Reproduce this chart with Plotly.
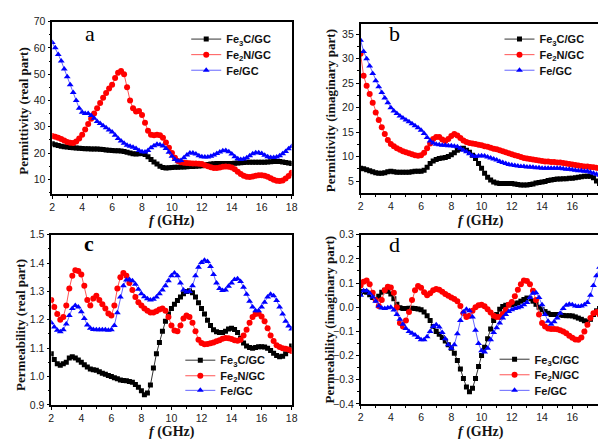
import plotly.graph_objects as go

freq = [round(2 + 0.2 * i, 1) for i in range(81)]

# Panel a: permittivity real part
a_fe3c = [23.5, 23.2, 22.9, 22.6, 22.4, 22.3, 22.1, 22.0, 21.9, 21.8,
          21.7, 21.6, 21.6, 21.5, 21.5, 21.5, 21.4, 21.3, 21.2, 21.1,
          21.0, 20.9, 20.9, 20.8, 20.6, 20.3, 20.0, 19.7, 19.6, 19.7,
          19.8, 19.4, 18.6, 17.5, 16.6, 15.8, 15.0, 14.5, 14.3, 14.4,
          14.5, 14.6, 14.6, 14.7, 14.7, 14.8, 14.9, 14.9, 15.0, 15.1,
          15.2, 15.4, 15.6, 15.8, 15.9, 16.0, 16.0, 16.0, 16.0, 16.0,
          16.0, 16.1, 16.2, 16.3, 16.4, 16.5, 16.5, 16.5, 16.5, 16.5,
          16.5, 16.5, 16.6, 16.7, 16.8, 16.8, 16.8, 16.6, 16.4, 16.2,
          16.0]
a_fe2n = [26.5, 26.2, 25.8, 25.3, 24.8, 24.2, 23.9, 23.8, 24.4, 25.5,
          27.0, 29.0, 31.0, 33.0, 35.0, 37.0, 39.0, 41.0, 42.8, 44.5,
          46.0, 48.5, 50.5, 51.2, 50.0, 45.0, 40.0, 37.0, 35.8, 36.0,
          34.5, 31.5, 28.5, 27.0, 26.8, 27.0, 26.8, 25.8, 24.0, 22.0,
          20.0, 18.2, 17.0, 16.5, 16.3, 16.2, 16.1, 16.0, 16.0, 15.9,
          15.8, 15.4, 15.0, 14.6, 14.3, 14.3, 14.5, 14.8, 14.9, 14.8,
          14.5, 13.8, 12.9, 12.0, 11.4, 11.0, 10.9, 11.1, 11.4, 11.6,
          11.6, 11.4, 11.0, 10.4, 9.8, 9.5, 9.4, 9.6, 10.3, 11.3,
          12.5]
a_fe = [62.0, 60.0, 57.5, 55.0, 52.0, 49.0, 46.0, 43.0, 40.0, 37.0,
        35.5, 35.0, 35.0, 34.3, 33.2, 32.0, 31.2, 30.4, 29.6, 28.8,
        28.0, 26.8, 25.5, 24.6, 23.7, 23.0, 22.6, 22.2, 21.7, 21.0,
        20.5, 20.4, 21.0, 22.0, 22.8, 23.3, 23.2, 22.7, 21.7, 20.3,
        18.8, 17.5, 17.0, 17.2, 18.2, 19.3, 20.0, 20.0, 19.6, 19.0,
        18.6, 18.5, 18.5, 18.8, 19.3, 19.8, 20.4, 20.9, 21.0, 20.5,
        19.6, 18.6, 17.8, 17.5, 17.7, 18.2, 19.0, 19.7, 20.1, 20.1,
        19.8, 19.2, 18.6, 18.3, 18.3, 18.5, 19.0, 19.7, 20.6, 21.6,
        22.5]

# Panel b: permittivity imaginary part
b_fe3c = [7.6, 7.5, 7.3, 7.1, 6.9, 6.7, 6.6, 6.6, 6.7, 6.9,
          7.0, 6.9, 6.8, 6.8, 6.8, 6.8, 6.8, 6.9, 7.0, 7.0,
          7.0, 7.2, 7.8, 8.6, 9.1, 9.4, 9.6, 9.7, 9.8, 10.0,
          10.4, 10.8, 11.3, 11.6, 11.7, 11.3, 10.9, 10.3, 9.6, 8.6,
          7.6, 6.6, 5.8, 5.2, 4.8, 4.6, 4.5, 4.5, 4.5, 4.5,
          4.5, 4.4, 4.3, 4.2, 4.2, 4.2, 4.3, 4.4, 4.6, 4.7,
          4.8, 4.9, 5.1, 5.2, 5.3, 5.4, 5.4, 5.5, 5.5, 5.6,
          5.6, 5.7, 5.8, 5.9, 6.0, 6.0, 6.0, 5.7, 5.0, 4.5,
          4.1]
b_fe2n = [31.0, 26.5, 24.5, 22.8, 21.0, 19.0, 17.5, 16.0, 14.6, 13.4,
          12.6, 12.1, 11.7, 11.4, 11.1, 10.9, 10.7, 10.5, 10.3, 10.2,
          10.3, 10.8, 11.7, 12.7, 13.6, 14.0, 14.0, 13.5, 13.2, 13.6,
          14.2, 14.6, 14.3, 13.8, 13.3, 13.0, 12.8, 12.7, 12.6, 12.4,
          12.3, 12.1, 12.0, 11.8, 11.6, 11.5, 11.3, 11.1, 10.9, 10.7,
          10.5, 10.3, 10.1, 9.9, 9.7, 9.6, 9.5, 9.4, 9.3, 9.2,
          9.1, 9.0, 9.0, 8.9, 8.9, 8.8, 8.8, 8.7, 8.6, 8.5,
          8.4, 8.3, 8.2, 8.1, 8.0, 8.0, 7.9, 7.8, 7.7, 7.6,
          7.6]
b_fe = [33.8, 31.5, 30.0, 28.5, 27.0, 25.5, 24.3, 23.1, 22.0, 21.0,
        20.0, 19.3, 18.8, 18.3, 17.9, 17.5, 17.1, 16.7, 16.3, 15.9,
        15.4, 14.7, 13.9, 13.2, 12.8, 12.5, 12.4, 12.3, 12.3, 12.2,
        12.2, 12.1, 12.0, 11.7, 11.3, 11.0, 10.6, 10.2, 10.0, 10.1,
        10.2, 10.1, 9.9, 9.7, 9.5, 9.3, 9.0, 8.8, 8.6, 8.4,
        8.3, 8.2, 8.1, 8.0, 8.0, 7.9, 7.9, 7.8, 7.7, 7.7,
        7.6, 7.6, 7.6, 7.6, 7.6, 7.6, 7.6, 7.5, 7.4, 7.4,
        7.3, 7.2, 7.1, 7.1, 7.0, 7.0, 6.8, 6.6, 6.4, 6.2,
        6.0]

# Panel c: permeability real part
c_fe3c = [1.080, 1.060, 1.045, 1.040, 1.045, 1.050, 1.065, 1.070, 1.065, 1.058,
          1.050, 1.042, 1.034, 1.027, 1.024, 1.022, 1.017, 1.012, 1.008, 1.004,
          1.000, 0.996, 0.992, 0.988, 0.986, 0.985, 0.983, 0.980, 0.972, 0.962,
          0.950, 0.936, 0.942, 0.970, 1.030, 1.080, 1.120, 1.160, 1.195, 1.220,
          1.240, 1.255, 1.268, 1.280, 1.292, 1.300, 1.302, 1.295, 1.280, 1.260,
          1.240, 1.220, 1.198, 1.180, 1.165, 1.158, 1.155, 1.155, 1.160, 1.168,
          1.170, 1.166, 1.155, 1.135, 1.118, 1.108, 1.102, 1.100, 1.102, 1.105,
          1.105, 1.104, 1.100, 1.092, 1.082, 1.074, 1.070, 1.072, 1.080, 1.092,
          1.108]
c_fe2n = [1.270, 1.245, 1.220, 1.200, 1.210, 1.250, 1.310, 1.355, 1.375, 1.372,
          1.360, 1.320, 1.270, 1.250, 1.275, 1.285, 1.270, 1.255, 1.240, 1.222,
          1.215, 1.250, 1.310, 1.350, 1.365, 1.355, 1.330, 1.305, 1.280, 1.262,
          1.250, 1.240, 1.232, 1.226, 1.226, 1.230, 1.236, 1.240, 1.232, 1.210,
          1.180, 1.162, 1.160, 1.180, 1.205, 1.215, 1.210, 1.190, 1.160, 1.130,
          1.118, 1.114, 1.115, 1.117, 1.120, 1.124, 1.128, 1.133, 1.136, 1.135,
          1.132, 1.128, 1.126, 1.130, 1.145, 1.165, 1.190, 1.210, 1.220, 1.222,
          1.212, 1.195, 1.170, 1.145, 1.125, 1.110, 1.104, 1.100, 1.098, 1.095,
          1.090]
c_fe = [1.190, 1.175, 1.163, 1.158, 1.165, 1.185, 1.215, 1.240, 1.250, 1.245,
        1.228, 1.205, 1.182, 1.170, 1.166, 1.165, 1.165, 1.165, 1.165, 1.163,
        1.165, 1.180, 1.225, 1.280, 1.320, 1.340, 1.342, 1.338, 1.325, 1.308,
        1.292, 1.281, 1.274, 1.270, 1.272, 1.280, 1.292, 1.305, 1.320, 1.338,
        1.355, 1.365, 1.355, 1.330, 1.305, 1.298, 1.300, 1.320, 1.355, 1.385,
        1.402, 1.410, 1.405, 1.388, 1.360, 1.330, 1.310, 1.303, 1.305, 1.318,
        1.330, 1.342, 1.345, 1.335, 1.315, 1.290, 1.265, 1.245, 1.232, 1.232,
        1.245, 1.262, 1.280, 1.290, 1.285, 1.268, 1.245, 1.220, 1.195, 1.178,
        1.168]

# Panel d: permeability imaginary part
d_fe3c = [0.060, 0.065, 0.062, 0.052, 0.040, 0.032, 0.045, 0.062, 0.070, 0.066,
          0.055, 0.035, 0.012, -0.002, -0.005, -0.005, -0.004, -0.004, -0.005, -0.007,
          -0.010, -0.020, -0.035, -0.055, -0.080, -0.100, -0.112, -0.125, -0.140, -0.155,
          -0.170, -0.190, -0.220, -0.255, -0.295, -0.330, -0.350, -0.335, -0.295, -0.245,
          -0.200, -0.165, -0.130, -0.090, -0.055, -0.030, -0.008, 0.003, 0.008, 0.010,
          0.010, 0.014, 0.018, 0.025, 0.032, 0.038, 0.035, 0.025, 0.012, 0.000,
          -0.010, -0.018, -0.025, -0.030, -0.030, -0.030, -0.032, -0.034, -0.035, -0.035,
          -0.036, -0.040, -0.045, -0.050, -0.056, -0.060, -0.050, -0.030, -0.015, -0.005,
          0.000]
d_fe2n = [0.090, 0.105, 0.110, 0.095, 0.060, 0.030, 0.005, 0.030, 0.070, 0.085,
          0.082, 0.060, 0.000, -0.065, -0.080, -0.055, -0.020, 0.030, 0.070, 0.088,
          0.080, 0.062, 0.050, 0.058, 0.070, 0.075, 0.072, 0.064, 0.055, 0.047,
          0.040, 0.034, 0.025, 0.005, -0.025, -0.040, -0.035, -0.015, 0.000, 0.008,
          0.010, 0.004, -0.008, -0.022, -0.035, -0.040, -0.040, -0.028, -0.010, 0.010,
          0.022, 0.045, 0.072, 0.095, 0.110, 0.108, 0.095, 0.068, 0.030, -0.030,
          -0.065, -0.080, -0.088, -0.090, -0.090, -0.091, -0.095, -0.100, -0.108, -0.118,
          -0.126, -0.133, -0.135, -0.125, -0.100, -0.072, -0.045, -0.025, -0.020, -0.030,
          -0.040]
d_fe = [0.050, 0.068, 0.068, 0.058, 0.042, 0.025, 0.005, -0.003, -0.005, -0.002,
        0.000, -0.012, -0.030, -0.050, -0.070, -0.088, -0.100, -0.108, -0.115, -0.125,
        -0.135, -0.135, -0.122, -0.100, -0.080, -0.072, -0.082, -0.105, -0.130, -0.155,
        -0.170, -0.155, -0.110, -0.055, -0.020, -0.008, -0.015, -0.040, -0.095, -0.150,
        -0.180, -0.185, -0.170, -0.135, -0.105, -0.085, -0.065, -0.045, -0.030, -0.018,
        -0.010, -0.005, -0.002, 0.002, 0.010, 0.020, 0.040, 0.058, 0.060, 0.040,
        0.010, -0.030, -0.058, -0.070, -0.060, -0.045, -0.025, -0.005, 0.008, 0.012,
        0.010, 0.005, 0.003, 0.005, 0.010, 0.020, 0.050, 0.090, 0.130, 0.165,
        0.200]

names = ["Fe<sub>3</sub>C/GC", "Fe<sub>2</sub>N/GC", "Fe/GC"]
colors = ["#000000", "#ff0000", "#0000ff"]
line_colors = ["#333333", "#ff5555", "#6666ff"]
symbols = ["square", "circle", "triangle-up"]
msizes = [5, 6, 6]

W, H = 604, 445
def px_x(p):
    return p / W
def px_y(p):
    return 1 - p / H

panels = [
    dict(ax="", data=[a_fe3c, a_fe2n, a_fe], xd=(50, 293), yd=(16, 193), yr=[4.5, 70],
         xr=[2, 18], ytick=10, yminor=5, fmt="d", mirror_y=True,
         ytitle="Permittivity (real part)", yt_pos=(20, 108), letter="a", let_pos=(88, 28),
         xt_pos=(172, 221), leg_x=186, leg_y=(34, 50, 66)),
    dict(ax="2", data=[b_fe3c, b_fe2n, b_fe], xd=(363, 604), yd=(18, 192), yr=[2.6, 37.2],
         xr=[2, 17.7], ytick=5, yminor=2.5, fmt="d", mirror_y=False,
         ytitle="Permittivity (imaginary part)", yt_pos=(332, 108), letter="b", let_pos=(397, 28),
         xt_pos=(485, 221), leg_x=504, leg_y=(34, 50, 66)),
    dict(ax="3", data=[c_fe3c, c_fe2n, c_fe], xd=(49, 293), yd=(235, 410), yr=[0.9, 1.5],
         xr=[2, 18], ytick=0.1, yminor=0.05, fmt=".1f", mirror_y=True,
         ytitle="Permeability (real part)", yt_pos=(17, 328), letter="c", let_pos=(87, 244),
         xt_pos=(172, 438), leg_x=180, leg_y=(364, 380, 395)),
    dict(ax="4", data=[d_fe3c, d_fe2n, d_fe], xd=(363, 604), yd=(235, 409), yr=[-0.4, 0.3],
         xr=[2, 17.7], ytick=0.1, yminor=0.05, fmt=".1f", mirror_y=False,
         ytitle="Permeability (imaginary part)", yt_pos=(331, 322), letter="d", let_pos=(397, 245),
         xt_pos=(485, 438), leg_x=499, leg_y=(363, 379, 395)),
]

fig = go.Figure()
layout = dict(width=W, height=H, margin=dict(l=0, r=0, t=0, b=0),
              paper_bgcolor="white", plot_bgcolor="white", showlegend=True)
annotations = []
tick_font = dict(family="Liberation Sans, Arial", size=10.5, color="#222222")
title_font = dict(family="Liberation Serif, Times New Roman", size=13, color="#111111")

leg_count = 0
for p in panels:
    ax = p["ax"]
    for i in range(3):
        leg_count += 1
        leg_name = "legend" if leg_count == 1 else "legend%d" % leg_count
        fig.add_trace(go.Scatter(
            x=freq, y=p["data"][i], name=names[i], mode="lines+markers",
            line=dict(color=line_colors[i], width=1),
            marker=dict(symbol=symbols[i], size=msizes[i], color=colors[i]),
            xaxis="x" + ax, yaxis="y" + ax, legend=leg_name, cliponaxis=True))
        layout[leg_name] = dict(x=px_x(p["leg_x"]), y=px_y(p["leg_y"][i]),
                                xanchor="left", yanchor="middle", bgcolor="rgba(0,0,0,0)",
                                font=dict(family="Liberation Sans, Arial", size=11, color="#111111", weight="bold"),
                                itemwidth=30)
    xa = dict(domain=[px_x(p["xd"][0]), px_x(p["xd"][1])], range=p["xr"],
              anchor="y" + ax, showline=True, linecolor="black", linewidth=1.5,
              mirror=True, ticks="outside", ticklen=3, tickwidth=1, tickcolor="black",
              tickvals=[2, 4, 6, 8, 10, 12, 14, 16, 18],
              minor=dict(ticks="outside", ticklen=2, dtick=1, tickcolor="black"),
              showgrid=False, zeroline=False, tickfont=tick_font)
    ya = dict(domain=[px_y(p["yd"][1]), px_y(p["yd"][0])], range=p["yr"],
              anchor="x" + ax, showline=True, linecolor="black", linewidth=1.5,
              mirror=p["mirror_y"], ticks="outside", ticklen=3, tickwidth=1, tickcolor="black",
              dtick=p["ytick"], tick0=0, tickformat=p["fmt"],
              minor=dict(ticks="outside", ticklen=2, dtick=p["yminor"], tickcolor="black"),
              showgrid=False, zeroline=False, tickfont=tick_font)
    layout["xaxis" + ax] = xa
    layout["yaxis" + ax] = ya
    annotations.append(dict(text="<b>" + p["ytitle"] + "</b>", x=px_x(p["yt_pos"][0]), y=px_y(p["yt_pos"][1]),
                            xref="paper", yref="paper", showarrow=False, textangle=-90,
                            font=title_font, xanchor="center", yanchor="middle"))
    annotations.append(dict(text="<b><i>f</i> (GHz)</b>", x=px_x(p["xt_pos"][0]), y=px_y(p["xt_pos"][1]),
                            xref="paper", yref="paper", showarrow=False,
                            font=dict(family="Liberation Serif, Times New Roman", size=14, color="#111111"),
                            xanchor="center", yanchor="middle"))
    lt = p["letter"]
    annotations.append(dict(text=("<b>%s</b>" % lt) if lt == "c" else lt,
                            x=px_x(p["let_pos"][0]), y=px_y(p["let_pos"][1]),
                            xref="paper", yref="paper", showarrow=False,
                            font=dict(family="Liberation Serif, Times New Roman", size=22, color="#000000"),
                            xanchor="center", yanchor="middle"))

layout["annotations"] = annotations
fig.update_layout(**layout)
fig.write_html("out.html")
